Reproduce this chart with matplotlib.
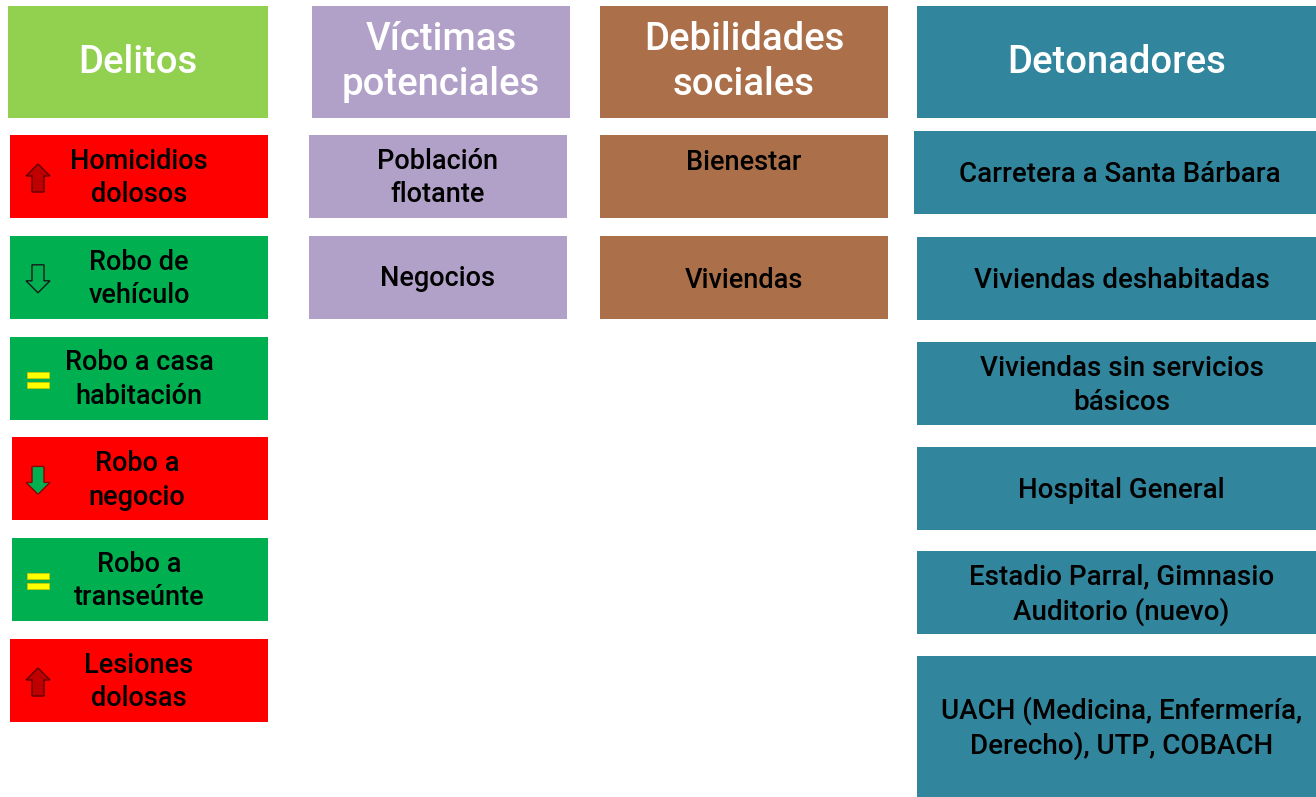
import matplotlib
matplotlib.use("Agg")
import matplotlib.pyplot as plt
from matplotlib.patches import Rectangle, Polygon

plt.rcParams['font.family'] = ['Roboto', 'DejaVu Sans']

# column headers and their fill colours
headers = ["Delitos", "Víctimas\npotenciales", "Debilidades\nsociales", "Detonadores"]
header_colors = ["#92D050", "#B1A0C7", "#AB7049", "#31859C"]

# crimes with trend indicator and box colour
delitos = ["Homicidios\ndolosos", "Robo de\nvehículo", "Robo a casa\nhabitación",
           "Robo a\nnegocio", "Robo a\ntranseúnte", "Lesiones\ndolosas"]
delitos_trend = ["up", "down_hollow", "equal", "down", "equal", "up"]
delitos_status = ["red", "green", "green", "red", "green", "red"]

victimas = ["Población\nflotante", "Negocios"]
debilidades = ["Bienestar", "Viviendas"]
detonadores = ["Carretera a Santa Bárbara", "Viviendas deshabitadas",
               "Viviendas sin servicios\nbásicos", "Hospital General",
               "Estadio Parral, Gimnasio\nAuditorio (nuevo)",
               "UACH (Medicina, Enfermería,\nDerecho), UTP, COBACH"]

status_colors = {"red": "#FF0000", "green": "#00B050"}

W, H = 1316, 797
fig = plt.figure(figsize=(W / 100, H / 100), dpi=100)
ax = fig.add_axes([0, 0, 1, 1])
ax.set_xlim(0, W)
ax.set_ylim(H, 0)
ax.axis("off")


def box(x0, x1, y0, y1, color, text, tcolor="black", size=19.5, tx=None, ty=None, ls=1.3):
    ax.add_patch(Rectangle((x0, y0), x1 - x0, y1 - y0, facecolor=color, edgecolor="none"))
    if tx is None:
        tx = (x0 + x1) / 2
    if ty is None:
        ty = (y0 + y1) / 2
    ax.text(tx, ty, text, ha="center", va="center", color=tcolor, fontsize=size,
            fontweight="medium", linespacing=ls)


def trend_icon(kind, cx, cy):
    if kind == "equal":
        for dy in (-5, 5):
            ax.add_patch(Rectangle((cx - 11, cy + dy - 3), 22, 6, facecolor="#FFFF00",
                                   edgecolor="#C8C800", lw=0.6))
        return
    # arrow shape pointing up, flipped for down
    hw, sw, hh, L = 12, 6, 12, 28
    pts = [(0, -L / 2), (hw, -L / 2 + hh), (sw, -L / 2 + hh), (sw, L / 2),
           (-sw, L / 2), (-sw, -L / 2 + hh), (-hw, -L / 2 + hh)]
    sign = 1 if kind == "up" else -1
    verts = [(cx + px, cy + sign * py) for px, py in pts]
    if kind == "up":
        fc, ec = "#C00000", "#600000"
    elif kind == "down":
        fc, ec = "#00B050", "#8B0000"
    else:
        fc, ec = "none", "#1A1A1A"
    ax.add_patch(Polygon(verts, closed=True, facecolor=fc, edgecolor=ec, lw=1))


# headers
header_x = [(8, 268), (312, 570), (600, 888), (917, 1316)]
for (x0, x1), txt, col in zip(header_x, headers, header_colors):
    box(x0, x1, 6, 118, col, txt, tcolor="white", size=27.5, ls=1.25)

# Delitos column
pitch = 100.8
for i, (txt, trend, st) in enumerate(zip(delitos, delitos_trend, delitos_status)):
    y0 = 135 + i * pitch
    x0 = 12 if i in (3, 4) else 10
    tx = 139 if i != 3 else 137
    box(x0, 268, y0, y0 + 83, status_colors[st], txt, tx=tx, ty=y0 + 43)
    trend_icon(trend, 38, y0 + 43)

# Víctimas column
for i, txt in enumerate(victimas):
    y0 = 135 + i * 101
    box(309, 567, y0, y0 + 83, header_colors[1], txt, ty=y0 + 43)

# Debilidades column (first label sits near the top of its box)
for i, txt in enumerate(debilidades):
    y0 = 135 + i * 101
    ty = y0 + 27 if i == 0 else y0 + 44
    box(600, 888, y0, y0 + 83, header_colors[2], txt, ty=ty)

# Detonadores column
det_rows = [(914, 131, 214), (917, 237, 320), (917, 342, 425),
            (917, 447, 530), (917, 551, 634), (917, 656, 797)]
for (x0, y0, y1), txt in zip(det_rows, detonadores):
    box(x0, 1316, y0, y1, header_colors[3], txt, size=20, tx=(x0 + 1316) / 2 + 5,
        ty=(y0 + y1) / 2 + 2)

fig.savefig("out.png", dpi=100)
